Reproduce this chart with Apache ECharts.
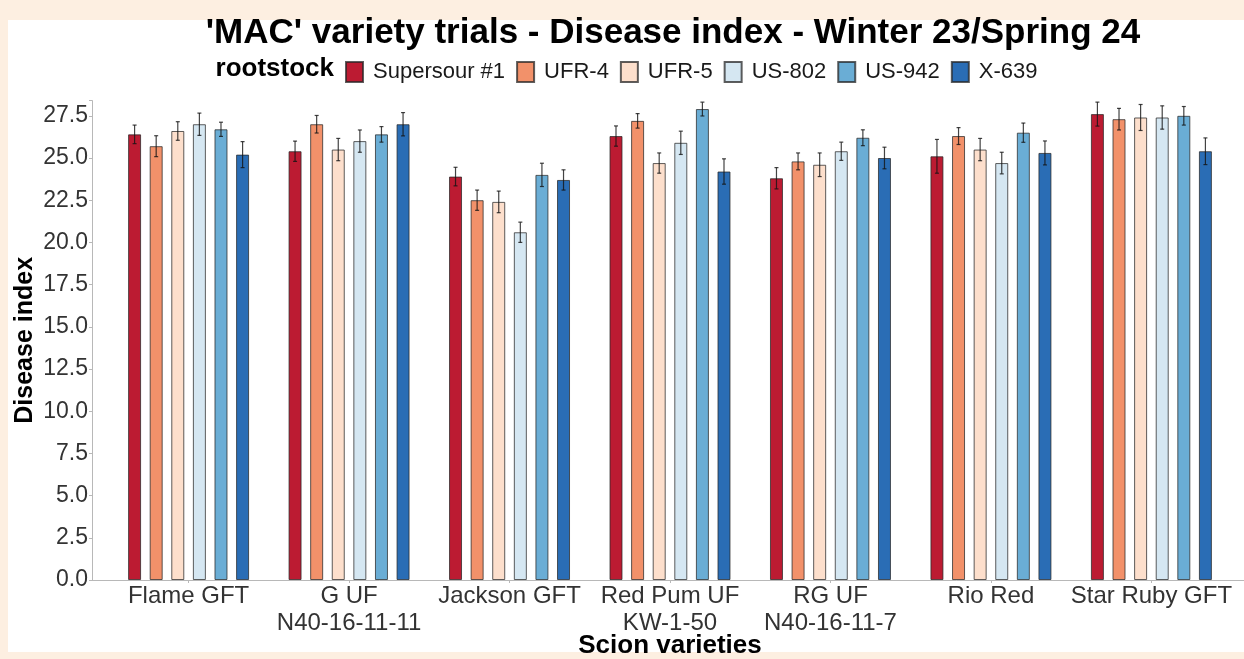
<!DOCTYPE html>
<html><head><meta charset="utf-8">
<script src="https://cdn.jsdelivr.net/npm/echarts/dist/echarts.min.js"></script>
<style>html,body{margin:0;padding:0;background:#fdefe1}#c{width:1244px;height:659px}</style>
</head><body><div id="c"></div>
<script>
const categories = ['Flame GFT', 'G UF\nN40-16-11-11', 'Jackson GFT', 'Red Pum UF\nKW-1-50', 'RG UF\nN40-16-11-7', 'Rio Red', 'Star Ruby GFT'];
const rootstocks = ['Supersour #1', 'UFR-4', 'UFR-5', 'US-802', 'US-942', 'X-639'];
const yTicks = [0, 2.5, 5, 7.5, 10, 12.5, 15, 17.5, 20, 22.5, 25, 27.5];

const valSupersour = [26.4, 25.4, 23.9, 26.3, 23.8, 25.1, 27.6];
const valUFR4      = [25.7, 27.0, 22.5, 27.2, 24.8, 26.3, 27.3];
const valUFR5      = [26.6, 25.5, 22.4, 24.7, 24.6, 25.5, 27.4];
const valUS802     = [27.0, 26.0, 20.6, 25.9, 25.4, 24.7, 27.4];
const valUS942     = [26.7, 26.4, 24.0, 27.9, 26.2, 26.5, 27.5];
const valX639      = [25.2, 27.0, 23.7, 24.2, 25.0, 25.3, 25.4];

const seSupersour = [0.55, 0.60, 0.55, 0.60, 0.63, 1.00, 0.71];
const seUFR4      = [0.62, 0.52, 0.60, 0.43, 0.50, 0.50, 0.64];
const seUFR5      = [0.55, 0.66, 0.64, 0.60, 0.70, 0.66, 0.77];
const seUS802     = [0.66, 0.66, 0.60, 0.69, 0.54, 0.64, 0.69];
const seUS942     = [0.42, 0.46, 0.69, 0.41, 0.47, 0.57, 0.55];
const seX639      = [0.77, 0.69, 0.60, 0.75, 0.64, 0.71, 0.79];

const values = [valSupersour, valUFR4, valUFR5, valUS802, valUS942, valX639];
const errors = [seSupersour, seUFR4, seUFR5, seUS802, seUS942, seX639];
const colors = ['#bc1b32', '#f2916a', '#fddfcc', '#d5e7f2', '#6aadd5', '#2a6db5'];

const FONT = 'Liberation Sans, Arial, sans-serif';
const Y_MAX = 28.4;
const PX_PER_UNIT = 16.88;
const BAR_W = 13;
const STEP = 21.6;
const BAR_GAP = ((STEP / BAR_W - 1) * 100).toFixed(2) + '%';
const AXIS_COL = '#b8b8b8';
const GRID_TOP = 580 - Y_MAX * PX_PER_UNIT;

const barSeries = rootstocks.map((name, i) => ({
  name, type: 'bar', xAxisIndex: 1, yAxisIndex: 1,
  barWidth: BAR_W, barGap: BAR_GAP,
  data: values[i],
  itemStyle: { color: colors[i], borderColor: 'rgba(40,40,40,0.75)', borderWidth: 1 },
  emphasis: { disabled: true }
}));

const errSeries = rootstocks.map((name, i) => ({
  type: 'custom', xAxisIndex: 1, yAxisIndex: 1, z: 5, silent: true,
  data: values[i].map((v, k) => [k, v, errors[i][k]]),
  renderItem(params, api) {
    const c = api.value(0), v = api.value(1), e = api.value(2);
    const top = api.coord([c, v + e]);
    const bot = api.coord([c, v - e]);
    const x = top[0] + (i - 2.5) * STEP;
    const st = { stroke: 'rgba(20,20,20,0.8)', lineWidth: 1.2 };
    return { type: 'group', children: [
      { type: 'line', shape: { x1: x, y1: top[1], x2: x, y2: bot[1] }, style: st },
      { type: 'line', shape: { x1: x - 2, y1: top[1], x2: x + 2, y2: top[1] }, style: st },
      { type: 'line', shape: { x1: x - 2, y1: bot[1], x2: x + 2, y2: bot[1] }, style: st }
    ]};
  }
}));

const chart = echarts.init(document.getElementById('c'));
chart.setOption({
  animation: false,
  backgroundColor: '#fdefe1',
  title: {
    text: "'MAC' variety trials - Disease index - Winter 23/Spring 24",
    left: 668, top: 11, textAlign: 'center',
    textStyle: { fontFamily: FONT, fontWeight: 'bold', fontSize: 35, color: '#000' }
  },
  graphic: { elements: [
    { type: 'rect', z: -100, silent: true, shape: { x: 8, y: 20, width: 1236, height: 632 }, style: { fill: '#ffffff' } },
    { type: 'text', right: 1244 - 334, top: 56, style: { text: 'rootstock', font: 'bold 26px ' + FONT, fill: '#000' } }
  ]},
  legend: {
    data: rootstocks, left: 345, top: 61, itemWidth: 17, itemHeight: 20, itemGap: 11,
    icon: 'rect', padding: 0,
    textStyle: { fontFamily: FONT, fontSize: 22, color: '#1a1a1a', padding: [0, 0, 0, 5] }
  },
  grid: [
    { left: 92, right: 0, top: GRID_TOP, bottom: 79, outerBoundsMode: 'none', containLabel: false },
    { left: 108.35, width: 1123.3, top: GRID_TOP, bottom: 79, outerBoundsMode: 'none', containLabel: false }
  ],
  xAxis: [
    { gridIndex: 0, type: 'value', min: 0.4, max: 7.6,
      axisLine: { show: true, lineStyle: { color: AXIS_COL, width: 1 } },
      axisTick: { show: false }, axisLabel: { show: false }, splitLine: { show: false } },
    { gridIndex: 1, type: 'category', data: categories,
      axisLine: { show: false },
      axisTick: { show: true, alignWithLabel: true, length: 3, lineStyle: { color: AXIS_COL } },
      axisLabel: { fontFamily: FONT, fontSize: 24, color: '#333', lineHeight: 27, margin: 3, interval: 0 },
      name: 'Scion varieties', nameLocation: 'middle', nameGap: 53, nameMoveOverlap: false,
      nameTextStyle: { fontFamily: FONT, fontWeight: 'bold', fontSize: 26, color: '#000' } }
  ],
  yAxis: [
    { gridIndex: 0, type: 'value', min: 0, max: Y_MAX, interval: 2.5,
      axisLine: { show: true, lineStyle: { color: AXIS_COL, width: 1 } },
      axisTick: { show: true, length: 3, lineStyle: { color: AXIS_COL } },
      splitLine: { show: false },
      axisLabel: { fontFamily: FONT, fontSize: 23, color: '#333', margin: 4,
        formatter: v => yTicks.some(t => Math.abs(t - v) < 1e-6) ? v.toFixed(1) : '' },
      name: 'Disease index', nameLocation: 'middle', nameGap: 54, nameMoveOverlap: false,
      nameTextStyle: { fontFamily: FONT, fontWeight: 'bold', fontSize: 25, color: '#000' } },
    { gridIndex: 1, type: 'value', min: 0, max: Y_MAX, show: false }
  ],
  series: barSeries.concat(errSeries)
});
</script>
</body></html>
